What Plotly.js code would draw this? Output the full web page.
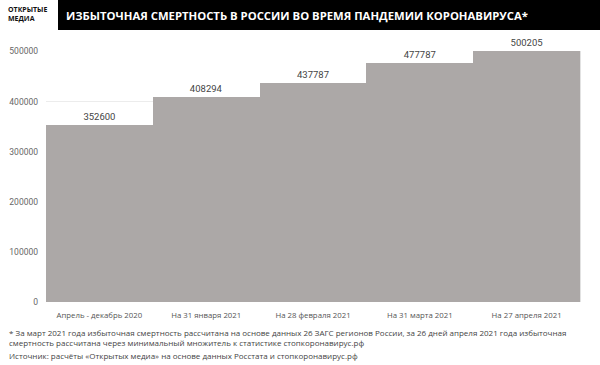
<!DOCTYPE html>
<html><head><meta charset="utf-8">
<script src="https://cdn.plot.ly/plotly-3.0.1.min.js"></script>
<style>html,body{margin:0;padding:0;background:#fff;}#chart{width:600px;height:365px;}</style>
</head><body><div id="chart"></div>
<script>
const categories = ["Апрель - декабрь 2020", "На 31 января 2021", "На 28 февраля 2021", "На 31 марта 2021", "На 27 апреля 2021"];
const deaths = [352600, 408294, 437787, 477787, 500205];
const yTicks = [0, 100000, 200000, 300000, 400000, 500000];
const titleText = "ИЗБЫТОЧНАЯ СМЕРТНОСТЬ В РОССИИ ВО ВРЕМЯ ПАНДЕМИИ КОРОНАВИРУСА*";
const note1 = "* За март 2021 года избыточная смертность рассчитана на основе данных 26 ЗАГС регионов России, за 26 дней апреля 2021 года избыточная";
const note2 = "смертность рассчитана через минимальный множитель к статистике стопкоронавирус.рф";
const source = "Источник: расчёты «Открытых медиа» на основе данных Росстата и стопкоронавирус.рф";

// plot area in pixels
const L = 46, R = 580, T = 51, B = 302;
const px = x => (x - L) / (R - L);
const py = y => (B - y) / (B - T);

const trace = {
  type: "bar", x: categories, y: deaths,
  marker: {color: "#aca8a7"},
  text: deaths.map(String), textposition: "outside",
  textfont: {family: "Roboto, Arial, sans-serif", size: 9.5, color: "#444"},
  cliponaxis: false, constraintext: "none", hoverinfo: "none"
};
const layout = {
  width: 600, height: 365,
  margin: {l: L, r: 600 - R, t: T, b: 365 - B},
  paper_bgcolor: "#fff", plot_bgcolor: "#fff",
  bargap: 0, showlegend: false,
  xaxis: {type: "category", tickfont: {family: "Open Sans, sans-serif", size: 7.8, color: "#555"}, ticks: "", showline: false, ticklabelstandoff: 7},
  yaxis: {range: [0, 501000], tickvals: yTicks, ticktext: yTicks.map(String),
          tickfont: {family: "Roboto, Arial, sans-serif", size: 8.5, color: "#666"},
          gridcolor: "#ececec", zeroline: false, showline: false, ticks: "", ticklabelstandoff: 7},
  shapes: [
    {type: "rect", xref: "paper", yref: "paper", x0: px(58), x1: px(600), y0: py(30), y1: py(0), fillcolor: "#000", line: {width: 0}, layer: "below"},
    {type: "line", xref: "paper", yref: "paper", x0: px(580.5), x1: px(580.5), y0: 0, y1: 1, line: {color: "#e2e2e2", width: 1}}
  ],
  annotations: [
    {text: "<b>" + titleText + "</b>", xref: "paper", yref: "paper", x: px(64), y: py(16), xanchor: "left", yanchor: "middle", showarrow: false,
     font: {family: "Open Sans, sans-serif", size: 11.3, color: "#fff"}},
    {text: "<b>ОТКРЫТЫЕ<br>МЕДИА</b>", xref: "paper", yref: "paper", x: px(6), y: py(14), xanchor: "left", yanchor: "middle", align: "left", showarrow: false,
     font: {family: "Open Sans, sans-serif", size: 7, color: "#111"}},
    {text: note1 + "<br>" + note2, xref: "paper", yref: "paper", x: px(7), y: py(325), xanchor: "left", yanchor: "top", align: "left", showarrow: false,
     font: {family: "Open Sans, sans-serif", size: 8, color: "#444"}},
    {text: source, xref: "paper", yref: "paper", x: px(7), y: py(348), xanchor: "left", yanchor: "top", align: "left", showarrow: false,
     font: {family: "Open Sans, sans-serif", size: 8, color: "#444"}}
  ]
};
Plotly.newPlot("chart", [trace], layout, {displayModeBar: false, staticPlot: true});
</script></body></html>
